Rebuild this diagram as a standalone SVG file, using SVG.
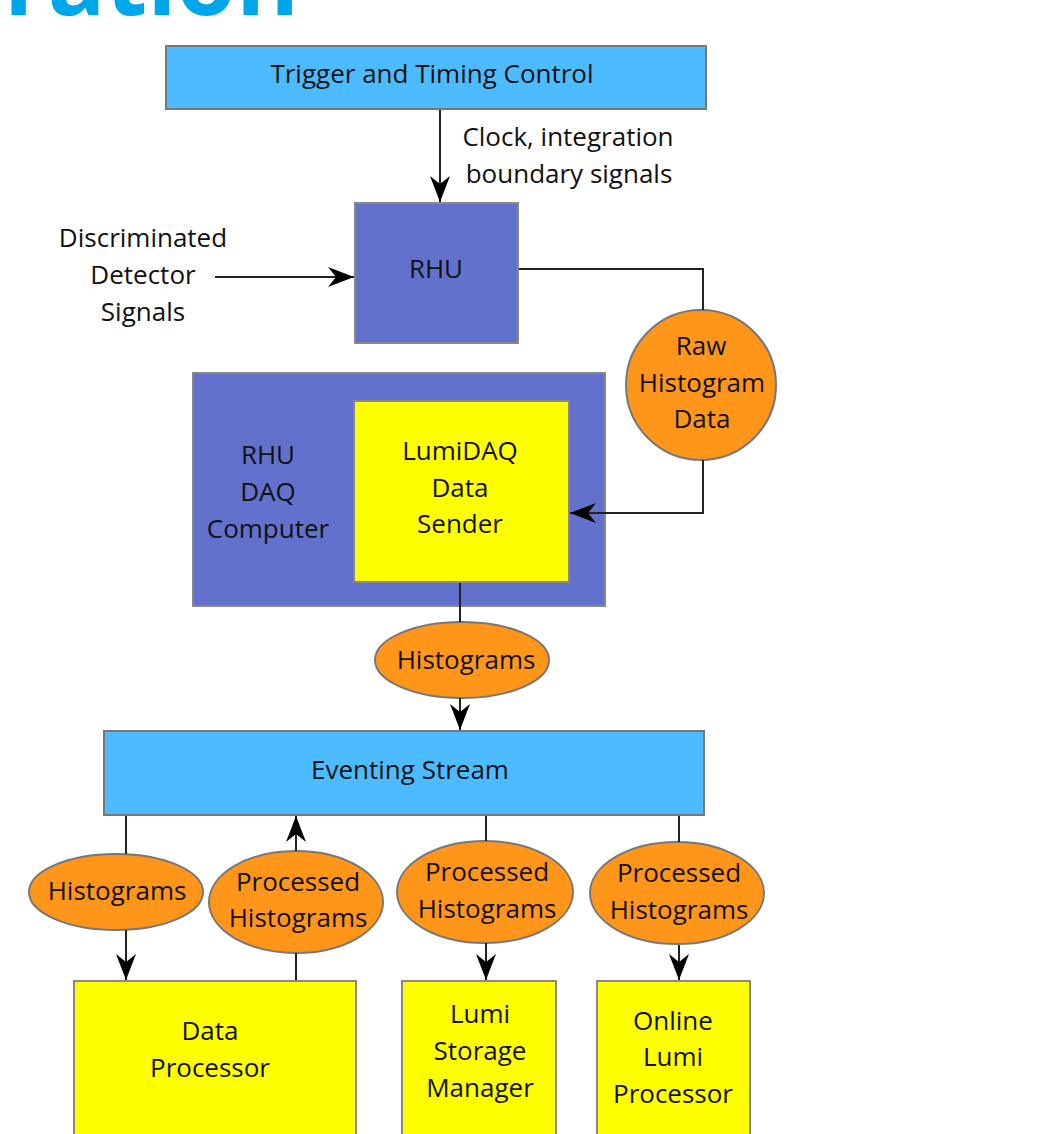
<svg xmlns="http://www.w3.org/2000/svg" width="1045" height="1134" viewBox="0 0 1045 1134">
<style>
text{font-family:"Open Sans","Noto Sans","DejaVu Sans",sans-serif;font-size:26px;fill:#111;text-anchor:middle}
.title{font-weight:bold;font-size:96px;fill:#00A6EB;text-anchor:start}
.blue{fill:#4DBBFF;stroke:#777;stroke-width:2}
.purple{fill:#6272CC;stroke:#888;stroke-width:2}
.yellow{fill:#FFFF00;stroke:#888;stroke-width:2}
.orange{fill:#FF961A;stroke:#777;stroke-width:2}
.line{fill:none;stroke:#222;stroke-width:2}
</style>
<defs>
<marker id="arr" markerUnits="userSpaceOnUse" markerWidth="30" markerHeight="26" viewBox="-28 -13 30 26" refX="0" refY="0" orient="auto">
<path d="M0,0 L-26,-10 L-18,0 L-26,10 Z" fill="#000"/>
</marker>
</defs>
<text class="title" x="4" y="15">ration</text>
<g id="trigger">
<rect class="blue" x="166" y="46" width="540" height="63"/>
<text x="432" y="83">Trigger and Timing Control</text>
</g>
<g id="clock-label">
<text x="568" y="146">Clock, integration</text>
<text x="569" y="183">boundary signals</text>
</g>
<g id="detector-label">
<text x="143" y="247">Discriminated</text>
<text x="143" y="284">Detector</text>
<text x="143" y="321">Signals</text>
</g>
<g id="rhu">
<rect class="purple" x="355" y="203" width="163" height="140"/>
<text x="436" y="278">RHU</text>
</g>
<g id="raw-data">
<circle class="orange" cx="701" cy="385" r="75"/>
<text x="701" y="355">Raw</text>
<text x="702" y="392">Histogram</text>
<text x="702" y="428">Data</text>
</g>
<g id="daq-computer">
<rect class="purple" x="193" y="373" width="412" height="233"/>
<text x="268" y="464">RHU</text>
<text x="268" y="501">DAQ</text>
<text x="268" y="538">Computer</text>
</g>
<g id="lumidaq">
<rect class="yellow" x="354" y="401" width="215" height="181"/>
<text x="460" y="460">LumiDAQ</text>
<text x="460" y="497">Data</text>
<text x="460" y="533">Sender</text>
</g>
<g id="histograms-1">
<ellipse class="orange" cx="462" cy="660" rx="87" ry="38"/>
<text x="466" y="669">Histograms</text>
</g>
<g id="eventing">
<rect class="blue" x="104" y="731" width="600" height="84"/>
<text x="410" y="779">Eventing Stream</text>
</g>
<g id="histograms-2">
<ellipse class="orange" cx="116" cy="892" rx="87" ry="38"/>
<text x="117" y="900">Histograms</text>
</g>
<g id="processed-1">
<ellipse class="orange" cx="296" cy="902" rx="87" ry="51"/>
<text x="298" y="891">Processed</text>
<text x="298" y="927">Histograms</text>
</g>
<g id="processed-2">
<ellipse class="orange" cx="485" cy="892" rx="88" ry="51"/>
<text x="487" y="881">Processed</text>
<text x="487" y="918">Histograms</text>
</g>
<g id="processed-3">
<ellipse class="orange" cx="677" cy="893" rx="87" ry="51"/>
<text x="679" y="882">Processed</text>
<text x="679" y="919">Histograms</text>
</g>
<g id="data-processor">
<rect class="yellow" x="74" y="981" width="282" height="170"/>
<text x="210" y="1040">Data</text>
<text x="210" y="1077">Processor</text>
</g>
<g id="storage-manager">
<rect class="yellow" x="402" y="981" width="154" height="170"/>
<text x="480" y="1023">Lumi</text>
<text x="480" y="1060">Storage</text>
<text x="480" y="1097">Manager</text>
</g>
<g id="online-processor">
<rect class="yellow" x="597" y="981" width="153" height="170"/>
<text x="673" y="1030">Online</text>
<text x="673" y="1066">Lumi</text>
<text x="673" y="1103">Processor</text>
</g>
<g id="connectors">
<line class="line" x1="440" y1="110" x2="440" y2="202" marker-end="url(#arr)"/>
<line class="line" x1="215" y1="277" x2="354" y2="277" marker-end="url(#arr)"/>
<polyline class="line" points="519,269 703,269 703,310"/>
<polyline class="line" points="703,460 703,513 570,513" marker-end="url(#arr)"/>
<line class="line" x1="460" y1="583" x2="460" y2="622"/>
<line class="line" x1="460" y1="698" x2="460" y2="730" marker-end="url(#arr)"/>
<line class="line" x1="126" y1="816" x2="126" y2="854"/>
<line class="line" x1="126" y1="930" x2="126" y2="980" marker-end="url(#arr)"/>
<line class="line" x1="296" y1="980" x2="296" y2="953"/>
<line class="line" x1="296" y1="851" x2="296" y2="816" marker-end="url(#arr)"/>
<line class="line" x1="486" y1="816" x2="486" y2="841"/>
<line class="line" x1="486" y1="943" x2="486" y2="980" marker-end="url(#arr)"/>
<line class="line" x1="679" y1="816" x2="679" y2="842"/>
<line class="line" x1="679" y1="945" x2="679" y2="980" marker-end="url(#arr)"/>
</g>
</svg>
